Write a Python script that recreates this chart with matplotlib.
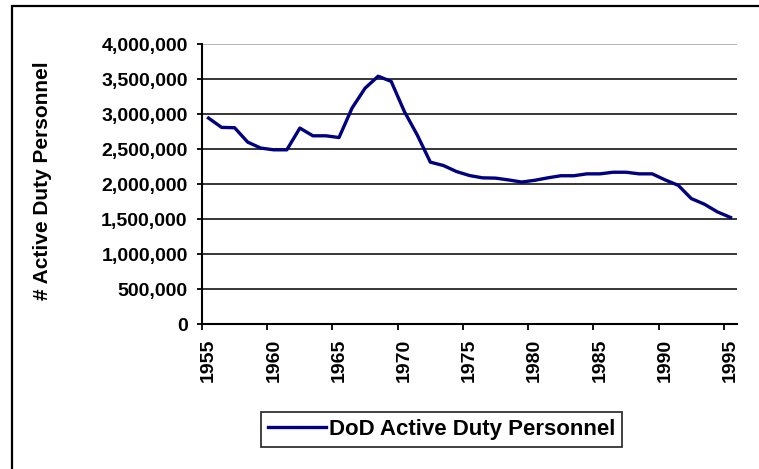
import matplotlib
matplotlib.use("Agg")
import matplotlib.pyplot as plt
from matplotlib.ticker import FuncFormatter, FixedLocator
from matplotlib.patches import Rectangle

years = list(range(1955, 1996))
personnel = [2943000, 2810000, 2805000, 2600000, 2515000, 2490000, 2490000,
             2800000, 2690000, 2690000, 2665000, 3086000, 3370000, 3540000,
             3466000, 3040000, 2700000, 2314000, 2266000, 2180000, 2123000,
             2090000, 2086000, 2060000, 2030000, 2055000, 2090000, 2120000,
             2120000, 2147000, 2147000, 2170000, 2170000, 2147000, 2147000,
             2060000, 1983000, 1794000, 1714000, 1604000, 1525000]
year_labels = [1955, 1960, 1965, 1970, 1975, 1980, 1985, 1990, 1995]
y_ticks = [0, 500000, 1000000, 1500000, 2000000, 2500000, 3000000, 3500000, 4000000]
series_name = "DoD Active Duty Personnel"
y_label = "# Active Duty Personnel"

W, H = 759, 469
fig = plt.figure(figsize=(W / 100, H / 100), dpi=100)
plt.rcParams['font.family'] = ['Liberation Sans', 'DejaVu Sans']

ax = fig.add_axes([202 / W, 1 - 324.3 / H, 535 / W, 280.3 / H])
line, = ax.plot(years, personnel, color='#000080', linewidth=2.4, label=series_name,
                solid_joinstyle='round')

ax.set_xlim(years[0] - 0.5, years[-1] + 0.5)
ax.set_ylim(0, 4000000)

# y axis
ax.set_yticks(y_ticks)
ax.yaxis.set_major_formatter(FuncFormatter(lambda v, p: f"{int(v):,}"))
for t in y_ticks[1:-1]:
    ax.axhline(t, color='black', linewidth=1.1, zorder=0.5)
ax.axhline(4000000, color='#b0b0b0', linewidth=1.3, zorder=0.5)

# x axis: ticks between categories, labels at categories
ax.xaxis.set_major_locator(FixedLocator([y - 0.5 for y in year_labels]))
ax.xaxis.set_minor_locator(FixedLocator(year_labels))
ax.xaxis.set_major_formatter(FuncFormatter(lambda v, p: ""))
ax.xaxis.set_minor_formatter(FuncFormatter(lambda v, p: f"{int(round(v))}"))
ax.tick_params(axis='x', which='major', length=4.3, width=1.3, color='black', direction='out')
ax.tick_params(axis='x', which='minor', length=0, pad=10.5, labelsize=14, labelrotation=90)
ax.tick_params(axis='y', which='major', length=3.8, width=1.3, color='black', direction='out',
               labelsize=14, pad=6.5)
for lab in ax.get_xticklabels(minor=True) + ax.get_yticklabels():
    lab.set_fontweight('bold')

for s in ['top', 'right']:
    ax.spines[s].set_visible(False)
ax.spines['left'].set_linewidth(1.5)
ax.spines['bottom'].set_linewidth(1.5)

fig.text(43 / W, 1 - 181 / H, y_label, rotation=90, ha='center', va='center',
         fontsize=15, fontweight='bold')

leg = fig.legend(handles=[line], loc='center',
                 bbox_to_anchor=(441.5 / W, 1 - 429.5 / H),
                 prop={'size': 16, 'weight': 'bold'}, frameon=True, fancybox=False,
                 handlelength=2.6, handletextpad=0.15, borderpad=0.3, borderaxespad=0)
leg.get_frame().set_edgecolor('black')
leg.get_frame().set_linewidth(1.3)

# outer chart border (extends beyond the image at right/bottom)
fig.add_artist(Rectangle((12 / W, -0.2), 2.0, 1.2 - 6 / H, transform=fig.transFigure,
                         fill=False, edgecolor='black', linewidth=1.6))

fig.savefig("out.png", dpi=100)
